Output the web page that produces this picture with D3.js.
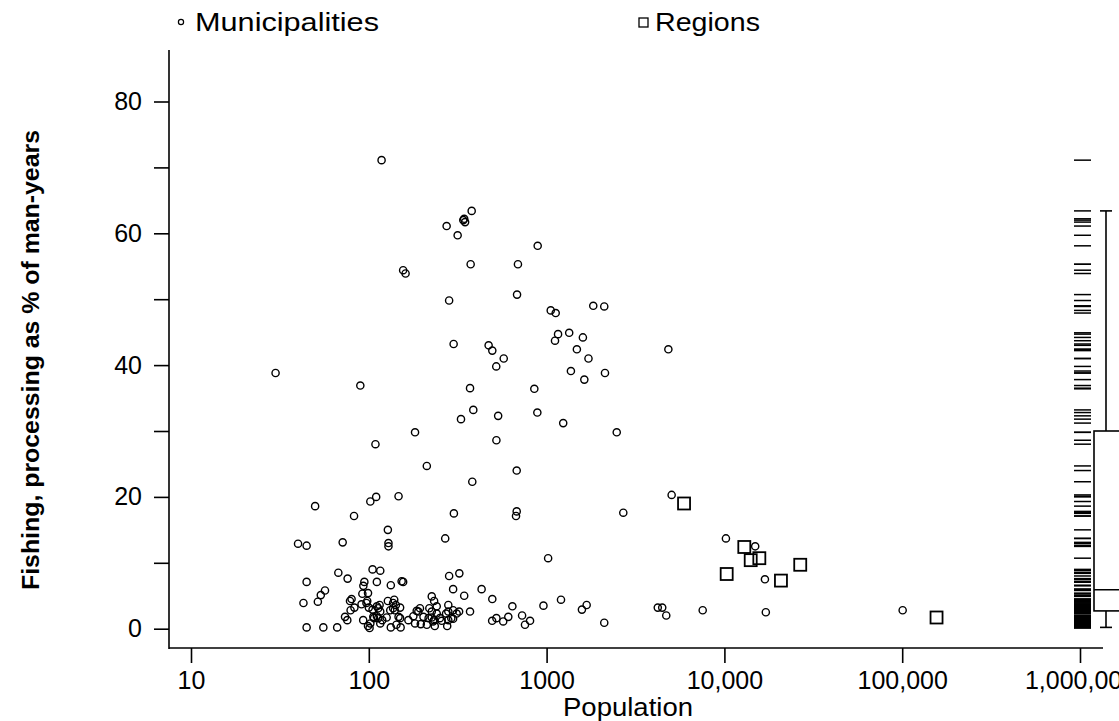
<!DOCTYPE html>
<html>
<head>
<meta charset="utf-8">
<script src="https://cdn.jsdelivr.net/npm/d3@7/dist/d3.min.js"></script>
<style>
  html, body { margin: 0; padding: 0; background: #fff; }
  svg { display: block; font-family: "Liberation Sans", Arial, sans-serif; }
</style>
</head>
<body>
<svg id="chart" width="1119" height="721"></svg>
<script>
// ---- Data ----
const muniPop = [118,274,340,348,344,379,316,374,156,161,891,690,682,283,300,472,495,574,521,29.9,
  1055,1125,1830,2110,1160,1340,1600,1115,1480,1720,1370,1630,2130,4840,89.6,371,853,387,330,534,
  887,1240,2480,522,182,109,212,382,679,49.9,82.6,102,110,147,301,679,673,2700,5050,10200,
  14900,16900,17100,7550,100600,4220,4470,4710,1020,2110,128,269,40.0,44.7,71.3,129,129,67.4,76.0,105,
  116,44.7,94.4,93.2,111,133,153,156,283,323,42.9,51.7,53.7,56.7,73.5,75.7,78.4,80,79,83,
  92,99,93,99,102,98,100,105,111,115,107,111,119,126,128,139,132,133,142,150,
  147,151,143,167,178,186,194,182,196,212,226,233,219,241,226,233,251,235,272,280,
  276,44.7,55.5,66.4,91,97,113,116,106,113,116,137,137,140,101,150,190,203,217,226,
  241,230,257,280,298,312,291,280,298,322,371,298,344,431,495,642,960,1205,1580,1680,
  494,522,570,609,728,756,807];
const muniShare = [71.1,61.1,62.0,61.7,62.2,63.4,59.7,55.3,54.4,53.9,58.1,55.3,50.7,49.8,43.2,43.0,42.2,41.0,39.8,38.8,
  48.3,47.9,49.0,48.9,44.7,44.9,44.2,43.7,42.4,41.0,39.1,37.8,38.8,42.4,36.9,36.5,36.4,33.2,31.8,32.3,
  32.8,31.2,29.8,28.6,29.8,28.0,24.7,22.3,24.0,18.6,17.1,19.3,20.0,20.1,17.5,17.8,17.1,17.6,20.3,13.7,
  12.5,7.5,2.5,2.8,2.8,3.2,3.2,2.0,10.7,0.9,15.0,13.7,12.9,12.6,13.1,13.0,12.5,8.5,7.6,9.0,
  8.8,7.1,7.1,6.5,7.1,6.6,7.2,7.1,8.0,8.4,3.9,4.1,5.1,5.8,1.8,1.3,4.2,4.5,2.8,3.2,
  5.3,5.4,1.3,0.4,0.8,4.2,3.2,2.9,3.4,3.6,1.6,1.9,1.3,1.7,4.2,4.4,2.8,0.2,3.6,3.2,
  1.8,0.2,0.6,1.3,1.9,2.7,3.1,0.8,0.7,0.6,4.9,4.2,3.1,3.4,1.7,1.3,1.6,0.4,2.3,3.6,
  0.4,0.2,0.2,0.2,3.7,3.9,3.1,2.6,1.8,1.6,0.8,3.9,3.1,2.8,0.1,1.6,2.6,1.8,1.6,2.6,
  2.3,1.1,1.2,2.6,2.8,2.3,1.6,1.3,6.0,2.6,2.6,1.5,5.0,6.0,4.5,3.4,3.5,4.4,2.9,3.6,
  1.2,1.6,1.1,1.8,2.0,0.6,1.2];
const regionPop = [5930,12940,14060,15720,10300,20800,26700,156000];
const regionShare = [19.0,12.4,10.4,10.7,8.3,7.3,9.7,1.7];
const xTicks = [10,100,1000,10000,100000,1000000];
const xTickLabels = ["10","100","1000","10,000","100,000","1,000,000"];
const yTicks = [0,10,20,30,40,50,60,70,80];
const yTickLabels = ["0","","20","","40","","60","","80"];
// box plot of municipality shares: [lower whisker, Q1, median, Q3, upper whisker]
const boxStats = [0.2,2.7,5.9,30.0,63.4];
const legendLabels = ["Municipalities","Regions"];
const xTitle = "Population";
const yTitle = "Fishing, processing as % of man-years";

// ---- Layout ----
const svg = d3.select("#chart");
svg.append("rect").attr("width",1119).attr("height",721).attr("fill","#fff");

const x = d3.scaleLog().domain([10,1e6]).range([191,1080]);
const y = d3.scaleLinear().domain([0,80]).range([628.7,101.5]);
const axisX0 = 169, axisY0 = 648;

// axis lines
svg.append("line").attr("x1",axisX0).attr("x2",axisX0).attr("y1",50).attr("y2",axisY0+1)
  .attr("stroke","#000").attr("stroke-width",1.6);
svg.append("line").attr("x1",axisX0).attr("x2",1103).attr("y1",axisY0).attr("y2",axisY0)
  .attr("stroke","#000").attr("stroke-width",1.6);

// y axis
const yAxis = d3.axisLeft(y).tickValues(yTicks).tickSize(15).tickPadding(12)
  .tickFormat((d,i)=>yTickLabels[i]);
const gy = svg.append("g").attr("transform",`translate(${axisX0},0)`).call(yAxis);
gy.select(".domain").remove();
gy.selectAll(".tick line").attr("stroke","#000").attr("stroke-width",1.6);
gy.selectAll(".tick text").attr("font-size",25).attr("fill","#000")
  .attr("font-family","'Liberation Sans', Arial, sans-serif");

// x axis
const xAxis = d3.axisBottom(x).tickValues(xTicks).tickSize(15).tickPadding(8)
  .tickFormat((d,i)=>xTickLabels[i]);
const gx = svg.append("g").attr("transform",`translate(0,${axisY0})`).call(xAxis);
gx.select(".domain").remove();
gx.selectAll(".tick line").attr("stroke","#000").attr("stroke-width",1.6);
gx.selectAll(".tick text").attr("font-size",25).attr("fill","#000")
  .attr("font-family","'Liberation Sans', Arial, sans-serif");

// titles
svg.append("text").attr("x",628).attr("y",716).attr("text-anchor","middle")
  .attr("font-size",26).attr("textLength",130).attr("lengthAdjust","spacingAndGlyphs").text(xTitle);
svg.append("text").attr("transform","translate(39,360) rotate(-90)").attr("text-anchor","middle")
  .attr("font-size",24).attr("font-weight","bold")
  .attr("textLength",460).attr("lengthAdjust","spacingAndGlyphs").text(yTitle);

// municipalities
const munis = muniPop.map((p,i)=>({p, s: muniShare[i]}));
svg.append("g").selectAll("circle").data(munis).join("circle")
  .attr("cx",d=>x(d.p)).attr("cy",d=>y(d.s)).attr("r",3.6)
  .attr("fill","none").attr("stroke","#000").attr("stroke-width",1.4);

// regions
const regions = regionPop.map((p,i)=>({p, s: regionShare[i]}));
const sq = 12;
svg.append("g").selectAll("rect").data(regions).join("rect")
  .attr("x",d=>x(d.p)-sq/2).attr("y",d=>y(d.s)-sq/2).attr("width",sq).attr("height",sq)
  .attr("fill","none").attr("stroke","#000").attr("stroke-width",1.8);

// rug of municipality shares
svg.append("g").selectAll("line").data(muniShare).join("line")
  .attr("x1",1074).attr("x2",1091).attr("y1",d=>y(d)).attr("y2",d=>y(d))
  .attr("stroke","#000").attr("stroke-width",1.5);

// box plot
const bx = 1094, bw = 40, wx = 1106;
const gb = svg.append("g").attr("stroke","#000").attr("stroke-width",1.6).attr("fill","none");
gb.append("rect").attr("x",bx).attr("y",y(boxStats[3])).attr("width",bw)
  .attr("height",y(boxStats[1])-y(boxStats[3]));
gb.append("line").attr("x1",bx).attr("x2",bx+bw).attr("y1",y(boxStats[2])).attr("y2",y(boxStats[2]));
gb.append("line").attr("x1",wx).attr("x2",wx).attr("y1",y(boxStats[3])).attr("y2",y(boxStats[4]));
gb.append("line").attr("x1",wx-6).attr("x2",wx+6).attr("y1",y(boxStats[4])).attr("y2",y(boxStats[4]));
gb.append("line").attr("x1",wx).attr("x2",wx).attr("y1",y(boxStats[1])).attr("y2",y(boxStats[0]));
gb.append("line").attr("x1",wx-6).attr("x2",wx+6).attr("y1",y(boxStats[0])).attr("y2",y(boxStats[0]));

// legend
const lg = svg.append("g");
lg.append("circle").attr("cx",181).attr("cy",22).attr("r",2.6)
  .attr("fill","none").attr("stroke","#000").attr("stroke-width",1.2);
lg.append("text").attr("x",195).attr("y",31).attr("font-size",26)
  .attr("textLength",184).attr("lengthAdjust","spacingAndGlyphs").text(legendLabels[0]);
lg.append("rect").attr("x",639).attr("y",18).attr("width",9).attr("height",9)
  .attr("fill","none").attr("stroke","#000").attr("stroke-width",1.3);
lg.append("text").attr("x",655).attr("y",31).attr("font-size",26)
  .attr("textLength",105).attr("lengthAdjust","spacingAndGlyphs").text(legendLabels[1]);
</script>
</body>
</html>
